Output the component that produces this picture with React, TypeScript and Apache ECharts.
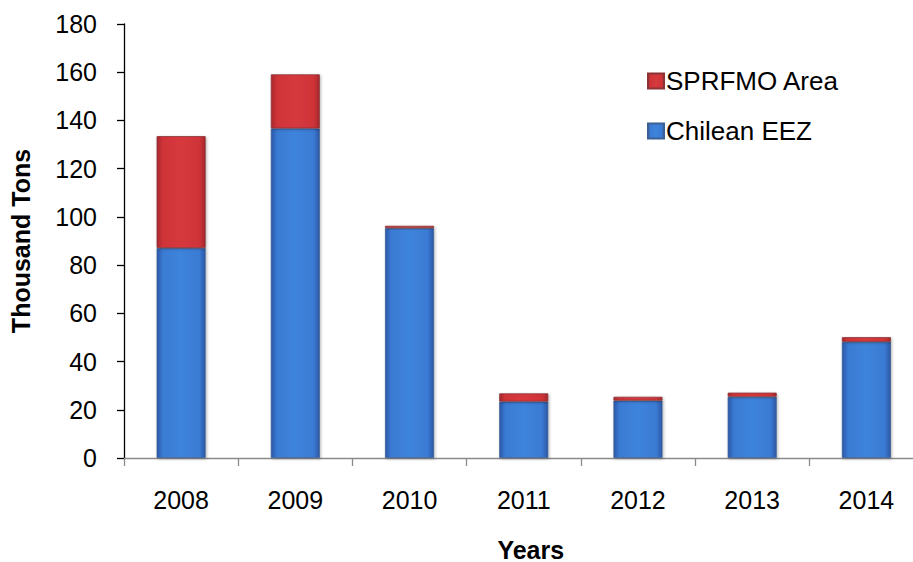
import React, { useEffect, useRef } from "react";
import * as echarts from "echarts";

// Catch by area, thousand tons
const years = ["2008", "2009", "2010", "2011", "2012", "2013", "2014"];
const chileanEEZ = [87.1, 136.7, 95.3, 23.4, 23.8, 25.4, 48.2];
const sprfmoArea = [46.4, 22.4, 1.0, 3.4, 1.6, 1.7, 1.9];
const yTicks = { min: 0, max: 180, interval: 20 };

const FONT = "'Liberation Sans', Arial, sans-serif";
const FS = 25;

const blueFill = new echarts.graphic.LinearGradient(0, 0, 1, 0, [
  { offset: 0, color: "#2b57a8" },
  { offset: 0.12, color: "#3a7ad3" },
  { offset: 0.5, color: "#3e84dc" },
  { offset: 0.88, color: "#3a7ad3" },
  { offset: 1, color: "#2c58a6" },
]);

const redFill = new echarts.graphic.LinearGradient(0, 0, 1, 0, [
  { offset: 0, color: "#a8282d" },
  { offset: 0.12, color: "#cf3338" },
  { offset: 0.5, color: "#d6393e" },
  { offset: 0.88, color: "#cf3338" },
  { offset: 1, color: "#a5292d" },
]);

export default function App() {
  const ref = useRef<HTMLDivElement>(null);

  useEffect(() => {
    document.body.style.margin = "0";
    if (!ref.current) return;
    const chart = echarts.init(ref.current, null, { renderer: "svg" });
    chart.setOption({
      animation: false,
      backgroundColor: "#ffffff",
      textStyle: { fontFamily: FONT },
      grid: {
        left: 124,
        top: 24,
        bottom: 104,
        right: -10.5,
        outerBoundsMode: "none",
        containLabel: false,
      },
      legend: {
        orient: "vertical",
        left: 642,
        top: 63,
        itemWidth: 16,
        itemHeight: 15,
        itemGap: 24,
        icon: "rect",
        data: ["SPRFMO Area", "Chilean EEZ"],
        textStyle: { fontSize: 26, color: "#000", fontFamily: FONT, padding: [0, 0, 0, -3] },
      },
      xAxis: {
        type: "category",
        data: years,
        name: "Years",
        nameLocation: "middle",
        nameGap: 79,
        nameTextStyle: {
          fontSize: FS,
          fontWeight: "bold",
          color: "#000",
          fontFamily: FONT,
          padding: [0, 0, 0, 14],
        },
        axisLine: { lineStyle: { color: "#8a8a8a", width: 1.3 } },
        axisTick: { show: true, length: 8, lineStyle: { color: "#8a8a8a", width: 1.3 } },
        axisLabel: { fontSize: FS, color: "#000", margin: 29, fontFamily: FONT },
      },
      yAxis: {
        type: "value",
        min: yTicks.min,
        max: yTicks.max,
        interval: yTicks.interval,
        name: "Thousand Tons",
        nameLocation: "middle",
        nameGap: 91,
        nameRotate: 90,
        nameTextStyle: { fontSize: FS, fontWeight: "bold", color: "#000", fontFamily: FONT },
        splitLine: { show: false },
        axisLine: { show: true, lineStyle: { color: "#000", width: 1.3 } },
        axisTick: { show: true, length: 7, lineStyle: { color: "#000", width: 1.3 } },
        axisLabel: { fontSize: FS, color: "#000", margin: 27, fontFamily: FONT },
      },
      series: [
        {
          name: "Chilean EEZ",
          type: "bar",
          stack: "catch",
          barWidth: 49,
          data: chileanEEZ,
          itemStyle: {
            color: blueFill,
            borderColor: "#3c5f94",
            borderWidth: 0.8,
            shadowColor: "rgba(0,0,0,0.3)",
            shadowBlur: 3,
            shadowOffsetX: 1,
            shadowOffsetY: 1,
          },
        },
        {
          name: "SPRFMO Area",
          type: "bar",
          stack: "catch",
          barWidth: 49,
          data: sprfmoArea,
          itemStyle: {
            color: redFill,
            borderColor: "#8a3336",
            borderWidth: 0.8,
            shadowColor: "rgba(0,0,0,0.3)",
            shadowBlur: 3,
            shadowOffsetX: 1,
            shadowOffsetY: 1,
          },
        },
      ],
    });
    return () => chart.dispose();
  }, []);

  return <div ref={ref} style={{ width: 913, height: 562 }} />;
}
